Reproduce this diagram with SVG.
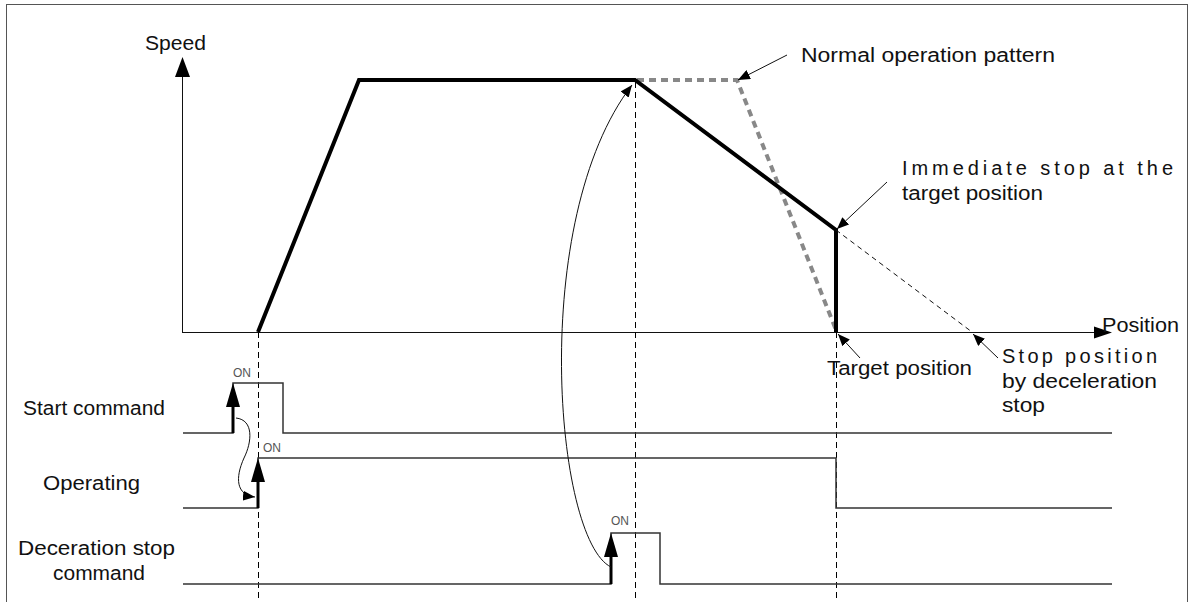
<svg xmlns="http://www.w3.org/2000/svg" width="1189" height="602" viewBox="0 0 1189 602">
<style>
text{font-family:"Liberation Sans",Arial,sans-serif;fill:#111}
.lbl{font-size:20px}
.on{font-size:12px;fill:#555}
.thin{fill:none;stroke:#111;stroke-width:1}
.sig{fill:none;stroke:#333;stroke-width:1.5}
.thick{fill:none;stroke:#000;stroke-width:4;stroke-linejoin:miter}
.grid{fill:none;stroke:#000;stroke-width:1;stroke-dasharray:6 4}
.gray{fill:none;stroke:#888;stroke-width:4;stroke-dasharray:7 5}
.ann{fill:none;stroke:#111;stroke-width:1;marker-end:url(#ah)}
.head{fill:#000}
</style>
<defs>
<marker id="ah" viewBox="0 0 12 10" refX="12" refY="5" markerWidth="12" markerHeight="10" markerUnits="userSpaceOnUse" orient="auto">
<path d="M0,0 L12,5 L0,10 Z" fill="#000"/>
</marker>
</defs>
<rect x="6.5" y="4.5" width="1181" height="620" fill="#fff" stroke="#555" stroke-width="1"/>

<g id="connectors">
  <!-- axes -->
  <path class="thin" d="M182.5,332 V76"/>
  <polygon class="head" points="182.5,57 175,77 190,77"/>
  <path class="thin" d="M182,332.5 H1095"/>
  <polygon class="head" points="1112,332.5 1094,326.5 1094,338.5"/>
  <!-- vertical dashed guides -->
  <path class="grid" d="M258.5,332 V602"/>
  <path class="grid" d="M635.5,82 V600"/>
  <path class="grid" d="M836.5,332 V600"/>
  <!-- normal pattern (gray dashed) -->
  <path class="gray" d="M637,80 H737 L836,330"/>
  <!-- actual speed profile -->
  <path class="thick" d="M258,332 L359,80 H635 L836,230 V332"/>
  <!-- deceleration stop extension -->
  <path fill="none" stroke="#111" stroke-width="1" stroke-dasharray="5 4" d="M836,230 L972,332"/>
  <!-- start command signal -->
  <path class="sig" d="M183,433 H233 V383 H283 V433 H1112"/>
  <!-- operating signal -->
  <path class="sig" d="M183,508 H258 V458 H836 V508 H1112"/>
  <!-- deceleration stop command signal -->
  <path class="sig" d="M183,584 H611 V533 H660 V584 H1112"/>
  <!-- thick edge arrows -->
  <path stroke="#000" stroke-width="3" d="M233,433 V400"/>
  <polygon class="head" points="233,383 226,407 240,407"/>
  <path stroke="#000" stroke-width="3" d="M258,508 V475"/>
  <polygon class="head" points="258,458 251,482 265,482"/>
  <path stroke="#000" stroke-width="3" d="M611,584 V550"/>
  <polygon class="head" points="611,533 604,557 618,557"/>
  <!-- causal curves -->
  <path class="ann" d="M236,418 C254,420 252,442 244,458 C235,478 236,495 255,497"/>
  <path class="ann" d="M611,567 C555,540 528,220 632,85"/>
  <!-- annotation arrows -->
  <path class="ann" d="M787,55 L738,80"/>
  <path class="ann" d="M887,182 L837,229"/>
  <path class="ann" d="M860,358 L838,334"/>
  <path class="ann" d="M998,358 L973,334"/>
</g>

<g id="axis-labels">
  <text class="lbl" x="145" y="50" textLength="61" lengthAdjust="spacingAndGlyphs">Speed</text>
  <text class="lbl" x="1102" y="332" textLength="77" lengthAdjust="spacingAndGlyphs">Position</text>
</g>
<g id="normal-pattern-label">
  <text class="lbl" x="801" y="62" textLength="254" lengthAdjust="spacingAndGlyphs">Normal operation pattern</text>
</g>
<g id="immediate-stop-label">
  <text class="lbl" x="902" y="175" textLength="271" lengthAdjust="spacing">Immediate stop at the</text>
  <text class="lbl" x="902" y="200" textLength="141" lengthAdjust="spacingAndGlyphs">target position</text>
</g>
<g id="target-position-label">
  <text class="lbl" x="827" y="375" textLength="145" lengthAdjust="spacingAndGlyphs">Target position</text>
</g>
<g id="decel-stop-position-label">
  <text class="lbl" x="1002" y="363" textLength="155" lengthAdjust="spacing">Stop position</text>
  <text class="lbl" x="1002" y="388" textLength="155" lengthAdjust="spacingAndGlyphs">by deceleration</text>
  <text class="lbl" x="1002" y="412" textLength="43" lengthAdjust="spacingAndGlyphs">stop</text>
</g>
<g id="start-command">
  <text class="lbl" x="23" y="415" textLength="142" lengthAdjust="spacingAndGlyphs">Start command</text>
  <text class="on" x="233" y="377">ON</text>
</g>
<g id="operating">
  <text class="lbl" x="43" y="490" textLength="97" lengthAdjust="spacingAndGlyphs">Operating</text>
  <text class="on" x="263" y="452">ON</text>
</g>
<g id="decel-stop-command">
  <text class="lbl" x="18" y="555" textLength="157" lengthAdjust="spacingAndGlyphs">Deceration stop</text>
  <text class="lbl" x="53" y="580" textLength="92" lengthAdjust="spacingAndGlyphs">command</text>
  <text class="on" x="611" y="525">ON</text>
</g>
</svg>
